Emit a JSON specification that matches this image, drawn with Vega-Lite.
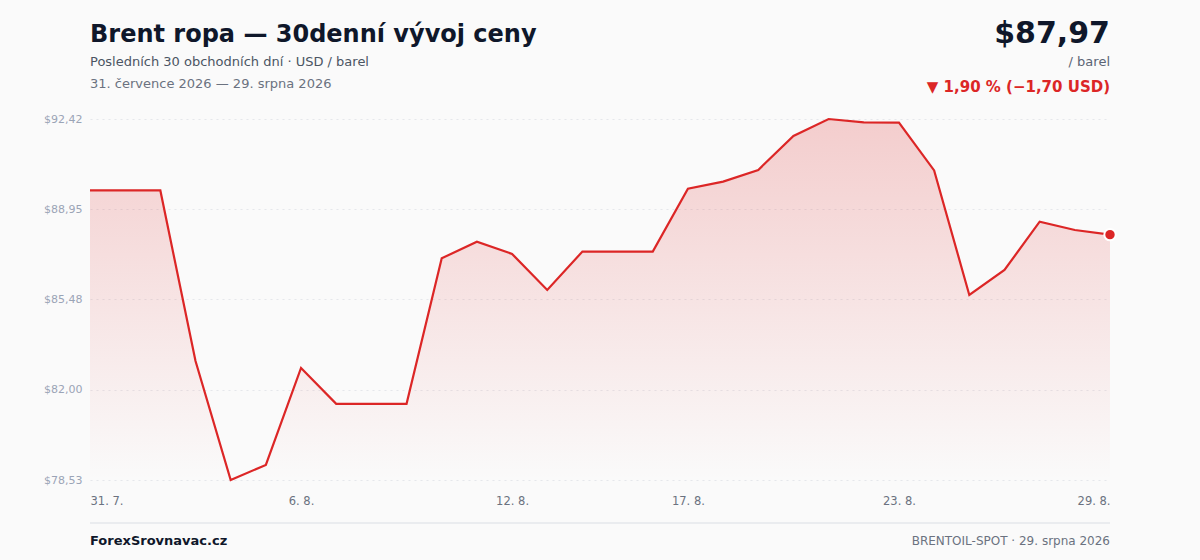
{
  "$schema": "https://vega.github.io/schema/vega-lite/v6.json",
  "width": 1020,
  "height": 361,
  "autosize": {"type": "none"},
  "padding": {"left": 90, "top": 119, "right": 90, "bottom": 80},
  "background": "#fafafa",
  "config": {
    "font": "DejaVu Sans",
    "view": {"stroke": null},
    "axis": {"labelFont": "DejaVu Sans"}
  },
  "data": {
    "values": [
      {"date": "2026-07-31", "price": 89.67},
      {"date": "2026-08-01", "price": 89.67},
      {"date": "2026-08-02", "price": 89.67},
      {"date": "2026-08-03", "price": 83.11},
      {"date": "2026-08-04", "price": 78.53},
      {"date": "2026-08-05", "price": 79.11},
      {"date": "2026-08-06", "price": 82.84},
      {"date": "2026-08-07", "price": 81.46},
      {"date": "2026-08-08", "price": 81.46},
      {"date": "2026-08-09", "price": 81.46},
      {"date": "2026-08-10", "price": 87.06},
      {"date": "2026-08-11", "price": 87.70},
      {"date": "2026-08-12", "price": 87.23},
      {"date": "2026-08-13", "price": 85.84},
      {"date": "2026-08-14", "price": 87.32},
      {"date": "2026-08-15", "price": 87.32},
      {"date": "2026-08-16", "price": 87.32},
      {"date": "2026-08-17", "price": 89.74},
      {"date": "2026-08-18", "price": 90.01},
      {"date": "2026-08-19", "price": 90.46},
      {"date": "2026-08-20", "price": 91.77},
      {"date": "2026-08-21", "price": 92.42},
      {"date": "2026-08-22", "price": 92.29},
      {"date": "2026-08-23", "price": 92.28},
      {"date": "2026-08-24", "price": 90.44},
      {"date": "2026-08-25", "price": 85.65},
      {"date": "2026-08-26", "price": 86.61},
      {"date": "2026-08-27", "price": 88.47},
      {"date": "2026-08-28", "price": 88.15},
      {"date": "2026-08-29", "price": 87.97}
    ]
  },
  "encoding": {
    "x": {
      "field": "date",
      "type": "temporal",
      "scale": {"type": "utc", "nice": false, "domain": [{"year": 2026, "month": 7, "date": 31, "utc": true}, {"year": 2026, "month": 8, "date": 29, "utc": true}]},
      "axis": {
        "title": null,
        "domain": false,
        "ticks": false,
        "grid": false,
        "values": [
          {"year": 2026, "month": 7, "date": 31, "utc": true},
          {"year": 2026, "month": 8, "date": 6, "utc": true},
          {"year": 2026, "month": 8, "date": 12, "utc": true},
          {"year": 2026, "month": 8, "date": 17, "utc": true},
          {"year": 2026, "month": 8, "date": 23, "utc": true},
          {"year": 2026, "month": 8, "date": 29, "utc": true}
        ],
        "labelExpr": "utcFormat(datum.value, '%-d. %-m.')",
        "labelAlign": {"expr": "datum.index === 0 ? 'left' : datum.index === 1 ? 'right' : 'center'"},
        "labelFontSize": 11.5,
        "labelColor": "#6b7280",
        "labelPadding": 15,
        "labelOverlap": false
      }
    },
    "y": {
      "field": "price",
      "type": "quantitative",
      "scale": {"domain": [78.53, 92.42], "nice": false, "zero": false},
      "axis": {
        "title": null,
        "domain": false,
        "ticks": false,
        "values": [78.53, 82.0, 85.48, 88.95, 92.42],
        "labelExpr": "'$' + replace(format(datum.value, '.2f'), '.', ',')",
        "labelFontSize": 11,
        "labelColor": "#9aa4b6",
        "labelPadding": 8,
        "gridColor": "#e5e7eb",
        "gridDash": [2, 4],
        "gridWidth": 1
      }
    }
  },
  "layer": [
    {
      "mark": {
        "type": "area",
        "fill": {
          "x1": 0, "y1": 0, "x2": 0, "y2": 1,
          "gradient": "linear",
          "stops": [
            {"offset": 0, "color": "rgba(220,38,38,0.21)"},
            {"offset": 1, "color": "rgba(220,38,38,0.0)"}
          ]
        }
      },
      "encoding": {"y2": {"datum": 78.53}}
    },
    {
      "mark": {"type": "line", "color": "#dc2626", "strokeWidth": 2.2, "strokeJoin": "miter"}
    },
    {
      "transform": [{"filter": "utcmonth(datum.date) == 7 && utcdate(datum.date) == 29"}],
      "mark": {"type": "point", "filled": true, "fill": "#dc2626", "stroke": "#ffffff", "strokeWidth": 2, "size": 130, "opacity": 1}
    },
    {
      "data": {"values": [{"t": "Brent ropa — 30denní vývoj ceny"}]},
      "mark": {"type": "text", "align": "left", "baseline": "alphabetic", "fontSize": 24, "fontWeight": "bold", "color": "#0f172a"},
      "encoding": {"text": {"field": "t"}, "x": {"value": 0}, "y": {"value": -77}}
    },
    {
      "data": {"values": [{"t": "Posledních 30 obchodních dní · USD / barel"}]},
      "mark": {"type": "text", "align": "left", "baseline": "middle", "fontSize": 13, "color": "#4b5563"},
      "encoding": {"text": {"field": "t"}, "x": {"value": 0}, "y": {"value": -57}}
    },
    {
      "data": {"values": [{"t": "31. července 2026 — 29. srpna 2026"}]},
      "mark": {"type": "text", "align": "left", "baseline": "middle", "fontSize": 13, "color": "#6b7280"},
      "encoding": {"text": {"field": "t"}, "x": {"value": 0}, "y": {"value": -35}}
    },
    {
      "data": {"values": [{"t": "$87,97"}]},
      "mark": {"type": "text", "align": "right", "baseline": "alphabetic", "fontSize": 30, "fontWeight": "bold", "color": "#0f172a"},
      "encoding": {"text": {"field": "t"}, "x": {"value": 1020}, "y": {"value": -76}}
    },
    {
      "data": {"values": [{"t": "/ barel"}]},
      "mark": {"type": "text", "align": "right", "baseline": "alphabetic", "fontSize": 13, "color": "#5b6475"},
      "encoding": {"text": {"field": "t"}, "x": {"value": 1020}, "y": {"value": -53}}
    },
    {
      "data": {"values": [{"t": "▼ 1,90 % (−1,70 USD)"}]},
      "mark": {"type": "text", "align": "right", "baseline": "alphabetic", "fontSize": 15, "fontWeight": "bold", "color": "#dc2626"},
      "encoding": {"text": {"field": "t"}, "x": {"value": 1020}, "y": {"value": -27}}
    },
    {
      "data": {"values": [{"t": 1}]},
      "mark": {"type": "rule", "color": "#e5e7eb", "strokeWidth": 1.5},
      "encoding": {"x": {"value": 0}, "x2": {"value": 1020}, "y": {"value": 404}}
    },
    {
      "data": {"values": [{"t": "ForexSrovnavac.cz"}]},
      "mark": {"type": "text", "align": "left", "baseline": "middle", "fontSize": 13, "fontWeight": "bold", "color": "#0f172a"},
      "encoding": {"text": {"field": "t"}, "x": {"value": 0}, "y": {"value": 422}}
    },
    {
      "data": {"values": [{"t": "BRENTOIL-SPOT · 29. srpna 2026"}]},
      "mark": {"type": "text", "align": "right", "baseline": "middle", "fontSize": 12, "color": "#6b7280"},
      "encoding": {"text": {"field": "t"}, "x": {"value": 1020}, "y": {"value": 422}}
    }
  ]
}
